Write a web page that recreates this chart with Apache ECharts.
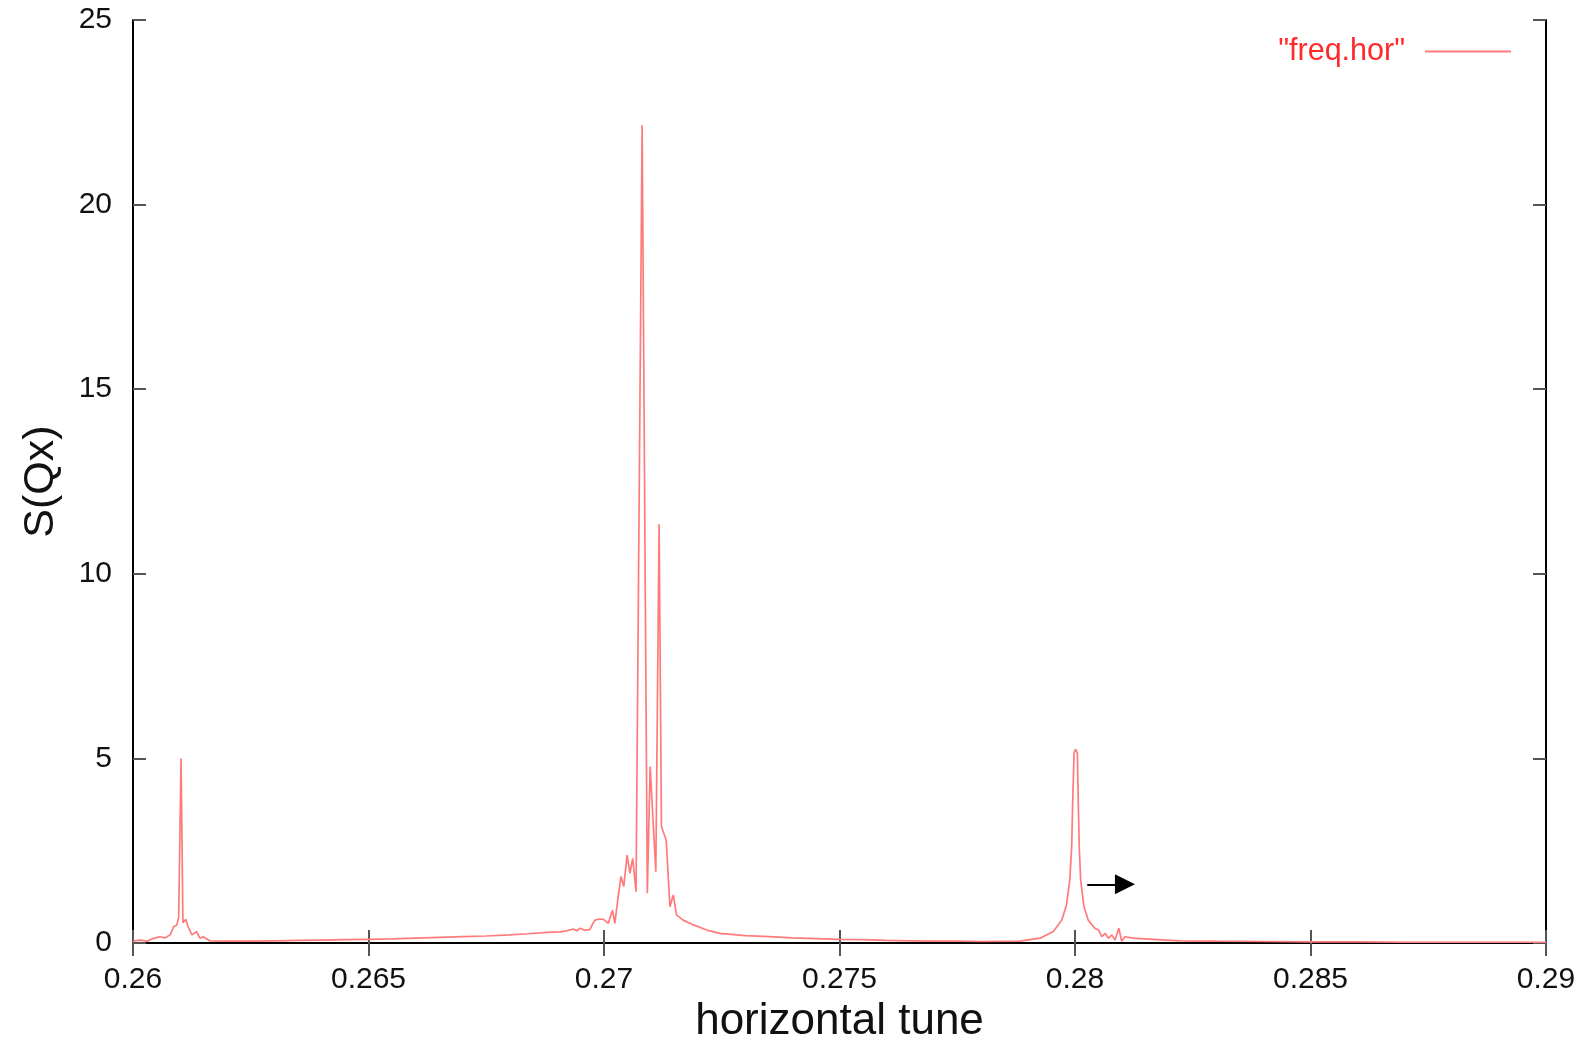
<!DOCTYPE html>
<html>
<head>
<meta charset="utf-8">
<script src="https://cdn.jsdelivr.net/npm/echarts@6/dist/echarts.min.js"></script>
<style>
html,body{margin:0;padding:0;background:#fff;}
#chart{width:1585px;height:1042px;}
</style>
</head>
<body>
<div id="chart"></div>
<script>
// ---- data ----
const seriesName = '"freq.hor"';
const xTitle = 'horizontal tune';
const yTitle = 'S(Qx)';

const tune = [
  0.26000, 0.26015, 0.26030, 0.26042, 0.26057, 0.26068, 0.26079, 0.26086, 0.26093, 0.26097,
  0.26102, 0.26106, 0.26112, 0.26117, 0.26125, 0.26135, 0.26142, 0.26149, 0.26163,
  0.2620, 0.2625, 0.2630, 0.2635, 0.2640, 0.2645, 0.2650, 0.2655, 0.2660, 0.2665, 0.2670,
  0.2675, 0.2680, 0.2684, 0.2688, 0.26907, 0.26920, 0.26935, 0.26942, 0.26949, 0.26958,
  0.26970, 0.26976, 0.26981, 0.26990, 0.26999, 0.27009, 0.27018, 0.27023, 0.27030, 0.27036,
  0.27042, 0.27049, 0.27055, 0.27061, 0.27068, 0.27081, 0.27092, 0.27098, 0.27110, 0.27117,
  0.27122, 0.27132, 0.27140, 0.27147, 0.27154, 0.27168, 0.27190, 0.27218, 0.27246,
  0.2730, 0.2735, 0.2740, 0.2745, 0.2750, 0.2755, 0.2760, 0.2765, 0.2770, 0.2775, 0.2780,
  0.27883, 0.27926, 0.27954, 0.27972, 0.27982, 0.27989, 0.27993, 0.27995, 0.27998, 0.28001,
  0.28005, 0.28007, 0.28009, 0.28012, 0.28019, 0.28028, 0.28042, 0.28050, 0.28057, 0.28064,
  0.28071, 0.28078, 0.28085, 0.28093, 0.28099, 0.28106, 0.28124, 0.28166, 0.28223,
  0.2830, 0.2840, 0.2850, 0.2860, 0.2870, 0.2880, 0.2890, 0.2900
];
const sqx = [
  0.05, 0.08, 0.05, 0.12, 0.17, 0.14, 0.22, 0.44, 0.49, 0.70,
  5.00, 0.55, 0.64, 0.44, 0.22, 0.31, 0.13, 0.17, 0.06,
  0.05, 0.05, 0.06, 0.07, 0.08, 0.09, 0.10, 0.11, 0.13, 0.15, 0.17,
  0.19, 0.22, 0.25, 0.29, 0.30, 0.33, 0.38, 0.33, 0.40, 0.35,
  0.36, 0.52, 0.62, 0.65, 0.64, 0.53, 0.89, 0.53, 1.25, 1.80,
  1.53, 2.38, 1.89, 2.29, 1.39, 22.15, 1.35, 4.78, 1.93, 11.34,
  3.15, 2.79, 0.98, 1.30, 0.76, 0.62, 0.49, 0.35, 0.26,
  0.20, 0.17, 0.14, 0.12, 0.10, 0.09, 0.07, 0.06, 0.05, 0.05, 0.04,
  0.05, 0.13, 0.31, 0.62, 1.03, 1.71, 2.61, 3.78, 5.14, 5.25,
  5.14, 3.78, 2.61, 1.71, 0.98, 0.62, 0.40, 0.35, 0.17, 0.26,
  0.13, 0.22, 0.08, 0.40, 0.05, 0.17, 0.13, 0.10, 0.06,
  0.05, 0.04, 0.03, 0.03, 0.02, 0.02, 0.02, 0.02
];

// annotation arrow (tune from -> to, at S value)
const arrowTune = [0.28026, 0.28106];
const arrowS = 1.59;

// axis ranges / ticks
const xRange = [0.26, 0.29];
const xStep = 0.005;
const yRange = [0, 25];
const yStep = 5;

const points = tune.map((t, i) => [t, sqx[i]]);

const FONT = 'Liberation Sans, Helvetica, Arial, sans-serif';
const fmtX = v => parseFloat(v.toFixed(4)).toString();
const LINE_COLOR = '#ff7b7b';

const chart = echarts.init(document.getElementById('chart'), null, {renderer: 'canvas'});

const axisLineStyle = {color: '#000', width: 2};
const tickStyle = {show: true, inside: true, length: 13, lineStyle: {color: '#555', width: 2}};

chart.setOption({
  animation: false,
  backgroundColor: '#fff',
  grid: {left: 133, right: 39, top: 20, bottom: 99, containLabel: false, outerBoundsMode: 'none'},
  legend: {
    data: [{name: seriesName, icon: 'rect'}],
    right: 69,
    top: 31,
    align: 'right',
    itemWidth: 86,
    itemHeight: 2,
    selectedMode: false,
    itemStyle: {color: LINE_COLOR},
    textStyle: {fontSize: 30.5, color: '#ff2a2a', fontFamily: FONT, padding: [0, 15, 0, 0]}
  },
  xAxis: [
    {
      type: 'value', min: xRange[0], max: xRange[1], interval: xStep, position: 'bottom',
      axisLine: {show: true, lineStyle: axisLineStyle},
      axisTick: tickStyle,
      splitLine: {show: false},
      axisLabel: {fontSize: 30, color: '#111', fontFamily: FONT, margin: 22, formatter: fmtX},
      name: xTitle, nameLocation: 'middle', nameGap: 57,
      nameTextStyle: {fontSize: 44, color: '#111', fontFamily: FONT}
    },
    {
      type: 'value', min: xRange[0], max: xRange[1], interval: xStep, position: 'top',
      axisLine: {show: true, lineStyle: axisLineStyle},
      axisTick: tickStyle,
      splitLine: {show: false},
      axisLabel: {show: false}
    }
  ],
  yAxis: [
    {
      type: 'value', min: yRange[0], max: yRange[1], interval: yStep, position: 'left',
      axisLine: {show: true, lineStyle: axisLineStyle},
      axisTick: tickStyle,
      splitLine: {show: false},
      axisLabel: {fontSize: 30, color: '#111', fontFamily: FONT, margin: 21},
      name: yTitle, nameLocation: 'middle', nameGap: 70, nameRotate: 90,
      nameTextStyle: {fontSize: 43, color: '#111', fontFamily: FONT}
    },
    {
      type: 'value', min: yRange[0], max: yRange[1], interval: yStep, position: 'right',
      axisLine: {show: true, lineStyle: axisLineStyle},
      axisTick: tickStyle,
      splitLine: {show: false},
      axisLabel: {show: false}
    }
  ],
  series: [
    {
      name: seriesName,
      type: 'line',
      xAxisIndex: 0, yAxisIndex: 0,
      data: points,
      symbol: 'none',
      showSymbol: false,
      lineStyle: {color: LINE_COLOR, width: 1.7},
      itemStyle: {color: LINE_COLOR},
      markLine: {
        silent: true,
        animation: false,
        symbol: ['none', 'triangle'],
        symbolSize: 20,
        label: {show: false},
        lineStyle: {color: '#000', width: 2, type: 'solid'},
        emphasis: {disabled: true},
        data: [[{coord: [arrowTune[0], arrowS]}, {coord: [arrowTune[1], arrowS]}]]
      }
    }
  ]
});
</script>
</body>
</html>
